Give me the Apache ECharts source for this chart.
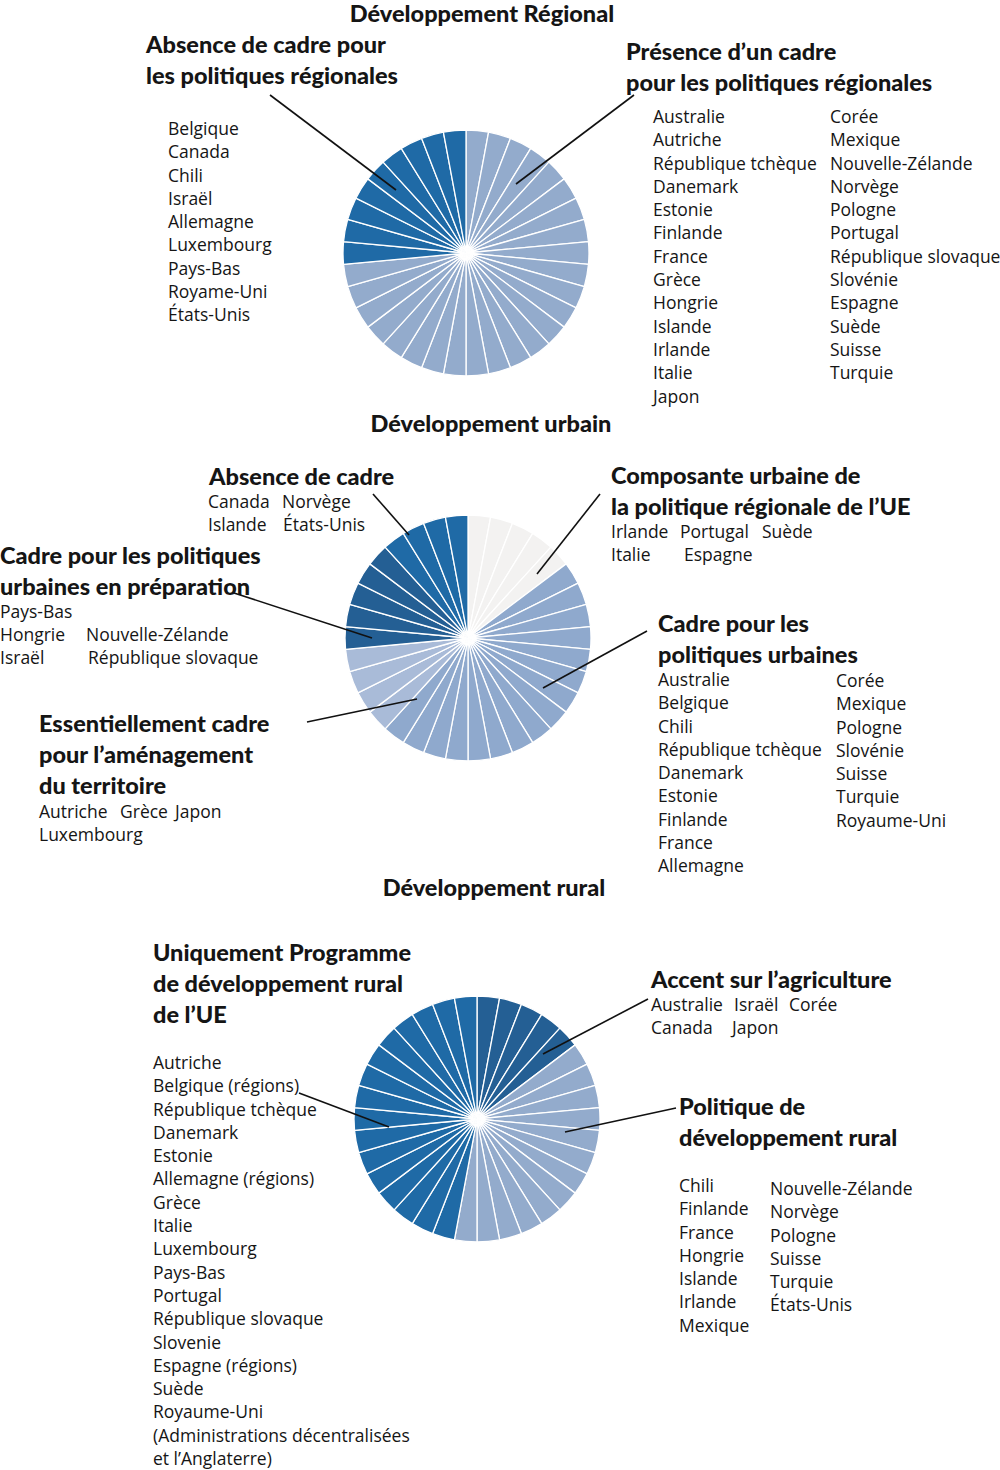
<!DOCTYPE html>
<html><head><meta charset="utf-8">
<script src="https://cdn.jsdelivr.net/npm/echarts@6/dist/echarts.min.js"></script>
<style>html,body{margin:0;padding:0;background:#fff}#c{width:1000px;height:1470px}</style>
</head><body><div id="c"></div>
<script>
// ---------- DATA ----------
const chartTitles = ['Développement Régional', 'Développement urbain', 'Développement rural'];

// Régional
const regPresenceTitle = 'Présence d’un cadre\npour les politiques régionales';
const regPresence = ['Australie','Autriche','République tchèque','Danemark','Estonie','Finlande','France','Grèce','Hongrie','Islande','Irlande','Italie','Japon',
  'Corée','Mexique','Nouvelle-Zélande','Norvège','Pologne','Portugal','République slovaque','Slovénie','Espagne','Suède','Suisse','Turquie'];
const regAbsenceTitle = 'Absence de cadre pour\nles politiques régionales';
const regAbsence = ['Belgique','Canada','Chili','Israël','Allemagne','Luxembourg','Pays-Bas','Royame-Uni','États-Unis'];

// Urbain
const urbComposanteTitle = 'Composante urbaine de\nla politique régionale de l’UE';
const urbComposante = ['Irlande','Portugal','Suède','Italie','Espagne'];
const urbCadreTitle = 'Cadre pour les\npolitiques urbaines';
const urbCadre = ['Australie','Belgique','Chili','République tchèque','Danemark','Estonie','Finlande','France','Allemagne',
  'Corée','Mexique','Pologne','Slovénie','Suisse','Turquie','Royaume-Uni'];
const urbAmenagementTitle = 'Essentiellement cadre\npour l’aménagement\ndu territoire';
const urbAmenagement = ['Autriche','Grèce','Japon','Luxembourg'];
const urbPreparationTitle = 'Cadre pour les politiques\nurbaines en préparation';
const urbPreparation = ['Pays-Bas','Hongrie','Nouvelle-Zélande','Israël','République slovaque'];
const urbAbsenceTitle = 'Absence de cadre';
const urbAbsence = ['Canada','Norvège','Islande','États-Unis'];

// Rural
const rurAgriTitle = 'Accent sur l’agriculture';
const rurAgri = ['Australie','Israël','Corée','Canada','Japon'];
const rurPolitiqueTitle = 'Politique de\ndéveloppement rural';
const rurPolitique = ['Chili','Finlande','France','Hongrie','Islande','Irlande','Mexique',
  'Nouvelle-Zélande','Norvège','Pologne','Suisse','Turquie','États-Unis'];
const rurUniquementTitle = 'Uniquement Programme\nde développement rural\nde l’UE';
const rurUniquement = ['Autriche','Belgique (régions)','République tchèque','Danemark','Estonie','Allemagne (régions)','Grèce','Italie',
  'Luxembourg','Pays-Bas','Portugal','République slovaque','Slovenie','Espagne (régions)','Suède',
  'Royaume-Uni\n(Administrations décentralisées\net l’Anglaterre)'];

// ---------- STYLE ----------
const FONT_B = 'Lato';
const FONT_R = 'Open Sans';
const C_DARK = '#1f6aa6', C_NAVY = '#245f94', C_LIGHT = '#93abcc', C_LIGHTER = '#a9bbd8', C_GREY = '#f3f2f1', C_URB = '#8fa9cd';

function slices(list, color) {
  return list.map(n => ({ name: n, value: 1, itemStyle: { color } }));
}
function pie(center, data) {
  return {
    type: 'pie', center, radius: 123, startAngle: 90, clockwise: true, z: 1,
    label: { show: false }, labelLine: { show: false }, silent: true, animation: false,
    itemStyle: { borderColor: '#fff', borderWidth: 1.3 },
    data
  };
}

const LH = 23.3;
const g = [];
function txt(x, yc, str, size, bold, lh, align) {
  lh = lh || LH;
  g.push({ type: 'text', x, y: yc - lh / 2, silent: true, z: 100,
    style: { text: str, fontFamily: bold ? FONT_B : FONT_R, fontSize: size, fontWeight: bold ? 900 : 'normal',
      fill: '#151515', lineHeight: lh, textAlign: align || 'left', textVerticalAlign: 'top' } });
}
const RS = 17.5;
const TS = 23.5;
function head(x, yc, str) { txt(x, yc, str, 23.5, true, str.indexOf('\n') >= 0 ? 31 : 24); }
function list(x, yc, arr) { txt(x, yc, arr.join('\n'), RS, false, LH); }
function item(x, yc, s) { txt(x, yc, s, RS, false, 20); }
function line(x1, y1, x2, y2) {
  g.push({ type: 'line', silent: true, z: 100, shape: { x1, y1, x2, y2 }, style: { stroke: '#111', lineWidth: 1.6 } });
}

// Chart 1
txt(482, 13, chartTitles[0], TS, true, 24, 'center');
head(146, 44, regAbsenceTitle);
list(168, 128, regAbsence);
head(626, 51, regPresenceTitle);
list(653, 116, regPresence.slice(0, 13));
list(830, 116, regPresence.slice(13));
line(270, 95, 396, 190);
line(634, 95, 516, 184);

// Chart 2
txt(491, 423, chartTitles[1], TS, true, 24, 'center');
head(209, 475.5, urbAbsenceTitle);
item(208, 501, urbAbsence[0]); item(282, 501, urbAbsence[1]);
item(208, 524, urbAbsence[2]); item(283, 524, urbAbsence[3]);
line(373, 494, 409, 535);
head(0, 555, urbPreparationTitle);
item(0, 611, urbPreparation[0]);
item(0, 634, urbPreparation[1]); item(86, 634, urbPreparation[2]);
item(0, 657, urbPreparation[3]); item(88, 657, urbPreparation[4]);
line(234, 593, 372, 638);
head(39, 723, urbAmenagementTitle);
item(39, 811, urbAmenagement[0]); item(120, 811, urbAmenagement[1]); item(175, 811, urbAmenagement[2]);
item(39, 834, urbAmenagement[3]);
line(307, 722, 417, 699);
head(611, 475, urbComposanteTitle);
item(611, 531, urbComposante[0]); item(680, 531, urbComposante[1]); item(762, 531, urbComposante[2]);
item(611, 554, urbComposante[3]); item(684, 554, urbComposante[4]);
line(600, 494, 537, 574);
head(658, 623, urbCadreTitle);
list(658, 679, urbCadre.slice(0, 9));
list(836, 680, urbCadre.slice(9));
line(647, 631, 543, 688);

// Chart 3
txt(494, 887, chartTitles[2], TS, true, 24, 'center');
head(153, 952, rurUniquementTitle);
list(153, 1062, rurUniquement);
line(299, 1093, 389, 1127);
head(651, 979, rurAgriTitle);
item(651, 1004, rurAgri[0]); item(734, 1004, rurAgri[1]); item(789, 1004, rurAgri[2]);
item(651, 1027, rurAgri[3]); item(732, 1027, rurAgri[4]);
line(648, 999, 543, 1054);
head(679, 1106, rurPolitiqueTitle);
list(679, 1185, rurPolitique.slice(0, 7));
list(770, 1188, rurPolitique.slice(7));
line(676, 1108, 565, 1132);

const chart = echarts.init(document.getElementById('c'), null, { renderer: 'svg' });
chart.setOption({
  animation: false,
  series: [
    pie([466, 253], [...slices(regPresence, C_LIGHT), ...slices(regAbsence, C_DARK)]),
    pie([468, 638], [...slices(urbComposante, C_GREY), ...slices(urbCadre, C_URB), ...slices(urbAmenagement, C_LIGHTER),
      ...slices(urbPreparation, C_NAVY), ...slices(urbAbsence, C_DARK)]),
    pie([477, 1119], [...slices(rurAgri, C_NAVY), ...slices(rurPolitique, C_LIGHT), ...slices(rurUniquement, C_DARK)])
  ],
  graphic: { elements: g }
});
</script></body></html>
